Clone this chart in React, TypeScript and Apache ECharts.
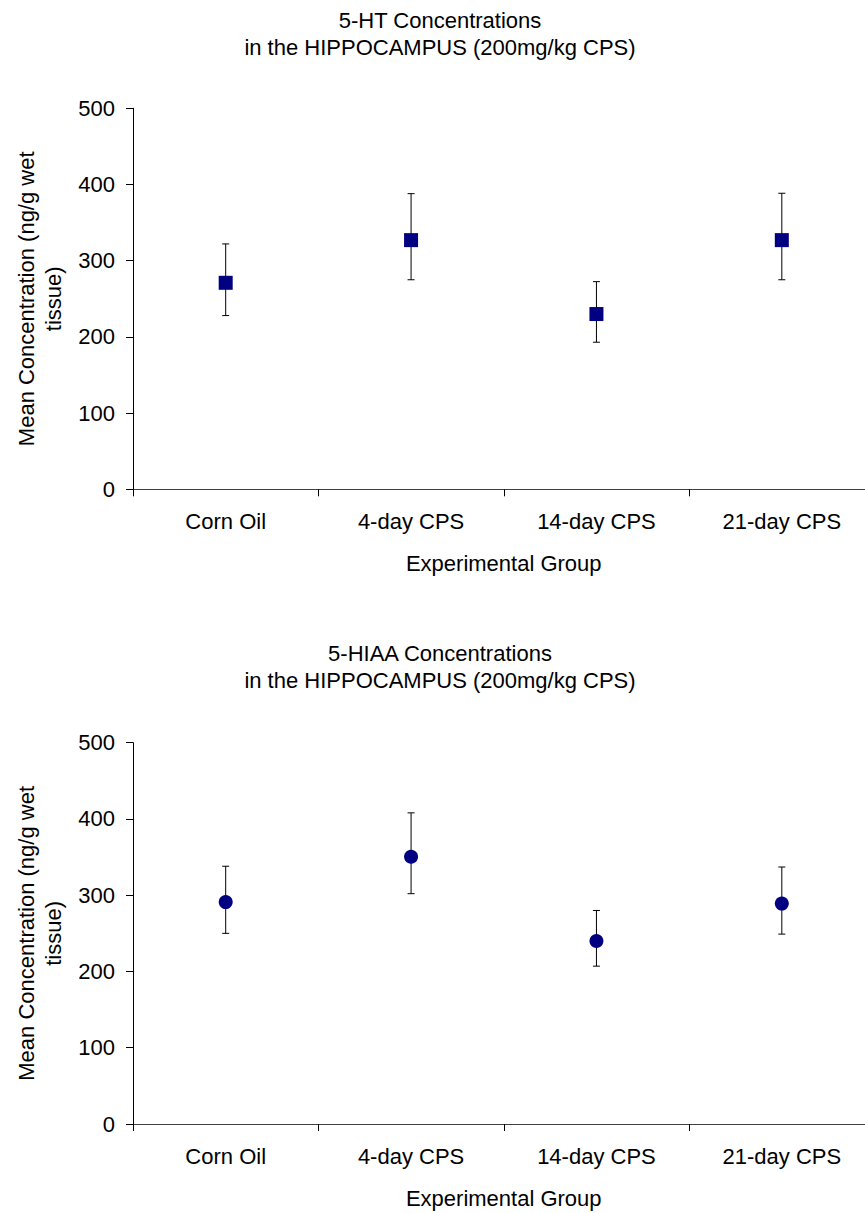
import React, { useEffect, useRef } from "react";
import * as echarts from "echarts";

const categories = ["Corn Oil", "4-day CPS", "14-day CPS", "21-day CPS"];
const yTicks = [0, 100, 200, 300, 400, 500];

const htMean = [271, 327, 230, 327];
const htUpper = [322, 388, 272.5, 388.5];
const htLower = [228, 275, 193, 275];

const hiaaMean = [291, 350.5, 240, 289];
const hiaaUpper = [338, 408, 280, 337];
const hiaaLower = [250, 302, 207, 249];

const titleTop = ["5-HT Concentrations", "in the HIPPOCAMPUS (200mg/kg CPS)"];
const titleBottom = ["5-HIAA Concentrations", "in the HIPPOCAMPUS (200mg/kg CPS)"];
const xName = "Experimental Group";
const yName = "Mean Concentration (ng/g wet\ntissue)";

const FONT = "'Liberation Sans', Arial, sans-serif";
const FS = 22;

export default function App() {
  const ref = useRef<HTMLDivElement>(null);
  useEffect(() => {
    if (!ref.current) return;
    const chart = echarts.init(ref.current, undefined, { renderer: "svg" });

    const errRender = (params: any, api: any) => {
      const lo = api.coord([api.value(0), api.value(1)]);
      const hi = api.coord([api.value(0), api.value(2)]);
      const cap = 3.5;
      const style = { stroke: "#000", lineWidth: 1 };
      return {
        type: "group",
        children: [
          { type: "line", shape: { x1: lo[0], y1: lo[1], x2: hi[0], y2: hi[1] }, style },
          { type: "line", shape: { x1: lo[0] - cap, y1: lo[1], x2: lo[0] + cap, y2: lo[1] }, style },
          { type: "line", shape: { x1: hi[0] - cap, y1: hi[1], x2: hi[0] + cap, y2: hi[1] }, style },
        ],
      };
    };

    const mkX = (gridIndex: number) => ({
      type: "category",
      gridIndex,
      data: categories,
      boundaryGap: true,
      axisLine: { show: true, lineStyle: { color: "#404040", width: 1 } },
      axisTick: { show: true, length: 7, inside: false, lineStyle: { color: "#000" } },
      axisLabel: { margin: 21, fontSize: FS, color: "#000", fontFamily: FONT },
      splitLine: { show: false },
      name: xName,
      nameLocation: "middle",
      nameGap: 63,
      nameTextStyle: { fontSize: FS, color: "#000", fontFamily: FONT },
    });
    const mkY = (gridIndex: number) => ({
      type: "value",
      gridIndex,
      min: yTicks[0],
      max: yTicks[yTicks.length - 1],
      interval: 100,
      splitLine: { show: false },
      axisLine: { show: true, lineStyle: { color: "#000", width: 1 } },
      axisTick: { show: true, length: 7, inside: false, lineStyle: { color: "#000" } },
      axisLabel: { margin: 18, fontSize: FS, color: "#000", fontFamily: FONT },
      name: yName,
      nameLocation: "middle",
      nameRotate: 90,
      nameGap: 64,
      nameTextStyle: { fontSize: FS, lineHeight: 27, color: "#000", fontFamily: FONT, align: "center" },
    });

    const mkTitle = (lines: string[], y: number) =>
      lines.map((t, i) => ({
        type: "text",
        x: 440,
        y: y + i * 27,
        style: {
          text: t,
          fontSize: FS,
          fontFamily: FONT,
          fill: "#000",
          textAlign: "center",
          textVerticalAlign: "middle",
        },
      }));

    chart.setOption({
      animation: false,
      backgroundColor: "#fff",
      graphic: [...mkTitle(titleTop, 20), ...mkTitle(titleBottom, 653)],
      grid: [
        { left: 133, top: 108.3, height: 381, width: 741.5, outerBoundsMode: "none", containLabel: false },
        { left: 133, top: 742.7, height: 381.3, width: 741.5, outerBoundsMode: "none", containLabel: false },
      ],
      xAxis: [mkX(0), mkX(1)],
      yAxis: [mkY(0), mkY(1)],
      series: [
        {
          type: "custom",
          xAxisIndex: 0,
          yAxisIndex: 0,
          renderItem: errRender,
          data: categories.map((_, i) => [i, htLower[i], htUpper[i]]),
          z: 1,
        },
        {
          type: "scatter",
          xAxisIndex: 0,
          yAxisIndex: 0,
          symbol: "rect",
          symbolSize: 14,
          itemStyle: { color: "#000080", opacity: 1 },
          data: htMean.map((v, i) => [i, v]),
          z: 2,
        },
        {
          type: "custom",
          xAxisIndex: 1,
          yAxisIndex: 1,
          renderItem: errRender,
          data: categories.map((_, i) => [i, hiaaLower[i], hiaaUpper[i]]),
          z: 1,
        },
        {
          type: "scatter",
          xAxisIndex: 1,
          yAxisIndex: 1,
          symbol: "circle",
          symbolSize: 14,
          itemStyle: { color: "#000080", opacity: 1 },
          data: hiaaMean.map((v, i) => [i, v]),
          z: 2,
        },
      ],
    });
    return () => chart.dispose();
  }, []);
  return (
    <div
      ref={ref}
      style={{ position: "fixed", left: 0, top: 0, width: 865, height: 1213, background: "#fff" }}
    />
  );
}
